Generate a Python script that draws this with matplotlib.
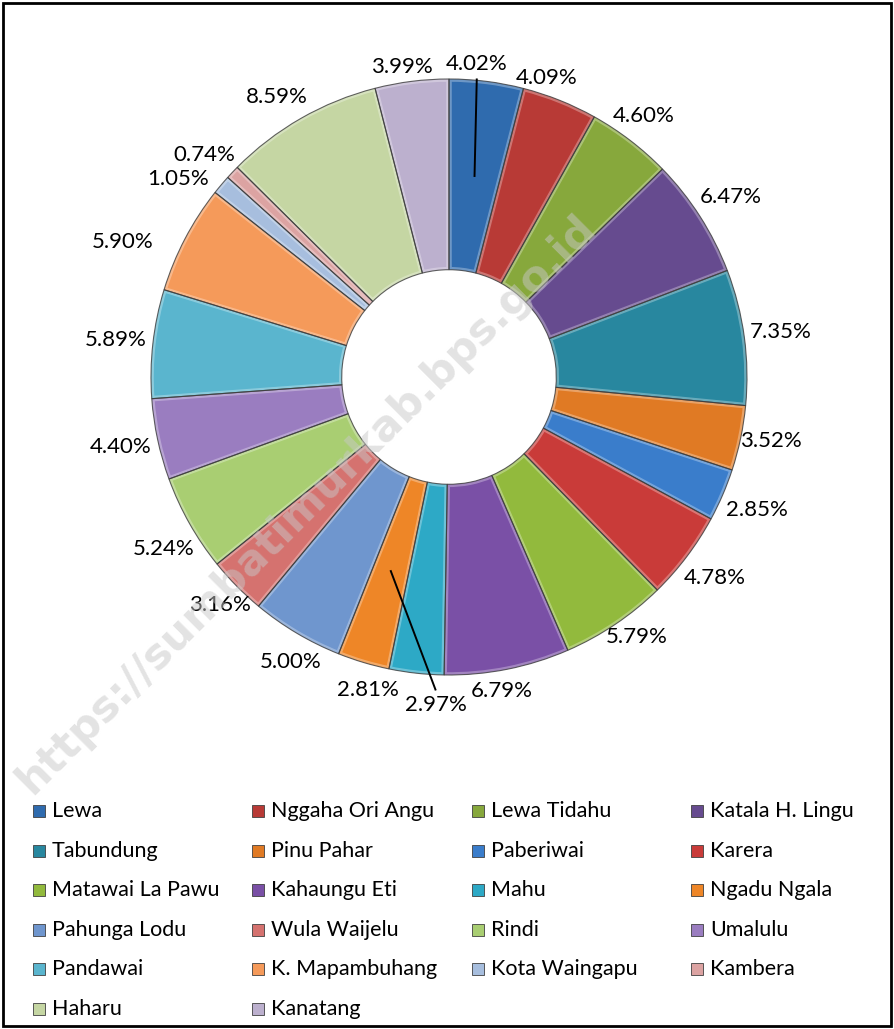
import matplotlib

matplotlib.use("Agg")
import matplotlib.pyplot as plt
import numpy as np
from matplotlib.patches import Rectangle, Wedge

# share of each kecamatan (percent), clockwise from 12 o'clock
DISTRICTS = [
    "Lewa", "Nggaha Ori Angu", "Lewa Tidahu", "Katala H. Lingu",
    "Tabundung", "Pinu Pahar", "Paberiwai", "Karera",
    "Matawai La Pawu", "Kahaungu Eti", "Mahu", "Ngadu Ngala",
    "Pahunga Lodu", "Wula Waijelu", "Rindi", "Umalulu",
    "Pandawai", "K. Mapambuhang", "Kota Waingapu", "Kambera",
    "Haharu", "Kanatang",
]
SHARES = [
    4.02, 4.09, 4.60, 6.47, 7.35, 3.52, 2.85, 4.78, 5.79, 6.79, 2.97,
    2.81, 5.00, 3.16, 5.24, 4.40, 5.89, 5.90, 1.05, 0.74, 8.59, 3.99,
]
COLORS = [
    "#2F6BAE", "#B83A36", "#87A83C", "#664B8F", "#28879F", "#E07A24",
    "#3A7DCB", "#C93B39", "#92BA3D", "#7A50A6", "#2DA9C6", "#EE8627",
    "#6F96CE", "#D5726F", "#A9CE72", "#9A7DC0", "#5AB5CE", "#F59A5A",
    "#A7BEDE", "#DCA3A2", "#C5D6A3", "#BCB0CE",
]
WATERMARK = "https://sumbatimurkab.bps.go.id"

W_PX, H_PX = 894, 1029
CX, CY, R = 449, 377, 298  # ring centre / outer radius, pixels
HOLE = 0.36
FONT = "Lato"

# label index -> wedge whose ring-middle the leader line points at
LEADERS = {0: 0, 10: 11}
# hand offsets so labels sit where Excel put them
NUDGE = {
    0: (-0.04, 0.0), 1: (-0.075, 0.0), 2: (-0.02, 0.0), 5: (-0.02, 0.015),
    8: (0.015, 0.04), 9: (-0.03, -0.01), 10: (0.07, -0.05), 11: (0.035, -0.02),
    12: (0.03, -0.015), 13: (0.025, 0.015), 14: (0.02, -0.025),
    17: (-0.10, -0.07), 18: (-0.057, -0.054), 19: (-0.013, -0.02),
    20: (-0.035, -0.01), 21: (-0.025, -0.01),
}

fig = plt.figure(figsize=(W_PX / 100, H_PX / 100), dpi=100)
ax = fig.add_axes([0, 0, 1, 1])
wedges, _ = ax.pie(
    SHARES,
    colors=COLORS,
    startangle=90,
    counterclock=False,
    radius=1.0,
    wedgeprops=dict(width=1 - HOLE, edgecolor="none", linewidth=0),
)
# soft bevel: light rim clipped inside each wedge, then a dark outline
for w in wedges:
    rim = Wedge(w.center, w.r, w.theta1, w.theta2, width=w.width,
                facecolor="none", edgecolor="white", lw=4, alpha=0.3, zorder=2)
    ax.add_patch(rim)
    rim.set_clip_path(w)
    edge = Wedge(w.center, w.r, w.theta1, w.theta2, width=w.width,
                 facecolor="none", edgecolor="#3c3c3c", lw=0.8, alpha=0.8, zorder=3)
    ax.add_patch(edge)
ax.set_xlim(-CX / R, (W_PX - CX) / R)
ax.set_ylim((CY - H_PX) / R, CY / R)
ax.set_aspect("equal")
ax.axis("off")

# data labels just outside the ring
shares = np.array(SHARES)
mid = np.cumsum(shares) - shares / 2
theta = np.deg2rad(90 - mid / shares.sum() * 360)
ux, uy = np.cos(theta), np.sin(theta)
lw, lh = 66 / R, 20 / R
rad = 1.01 + 0.5 * (lw * np.abs(ux) + lh * np.abs(uy))
ring_mid = (1 + HOLE) / 2
for i, v in enumerate(SHARES):
    dx, dy = NUDGE.get(i, (0.0, 0.0))
    lx, ly = rad[i] * ux[i] + dx, rad[i] * uy[i] + dy
    ax.text(lx, ly, f"{v:.2f}%", ha="center", va="center", fontsize=16, family=FONT, zorder=5)
    if i in LEADERS:
        j = LEADERS[i]
        sy = ly - lh * 0.75 * np.sign(ly)
        ax.plot([lx, ring_mid * ux[j]], [sy, ring_mid * uy[j]], color="black", lw=1.4, zorder=4)

# legend, laid out row by row in 4 columns
for i, (name, col) in enumerate(zip(DISTRICTS, COLORS)):
    row, c = divmod(i, 4)
    x = 33 + c * 219.3
    y = 811 + row * 39.6
    fig.add_artist(Rectangle((x / W_PX, 1 - (y + 6) / H_PX), 12 / W_PX, 12 / H_PX,
                             transform=fig.transFigure, facecolor=col,
                             edgecolor="#404040", lw=0.6))
    fig.text((x + 19) / W_PX, 1 - y / H_PX, name, ha="left", va="center",
             fontsize=15.5, family=FONT)

fig.text(0.343, 0.51, WATERMARK, rotation=45, ha="center", va="center",
         fontsize=31, fontweight="bold", family="DejaVu Sans",
         color="#c8c8c8", alpha=0.5, zorder=10)

fig.add_artist(Rectangle((0.003, 0.003), 0.994, 0.994, transform=fig.transFigure,
                         fill=False, edgecolor="black", lw=2))

fig.savefig("out.png", dpi=100)
